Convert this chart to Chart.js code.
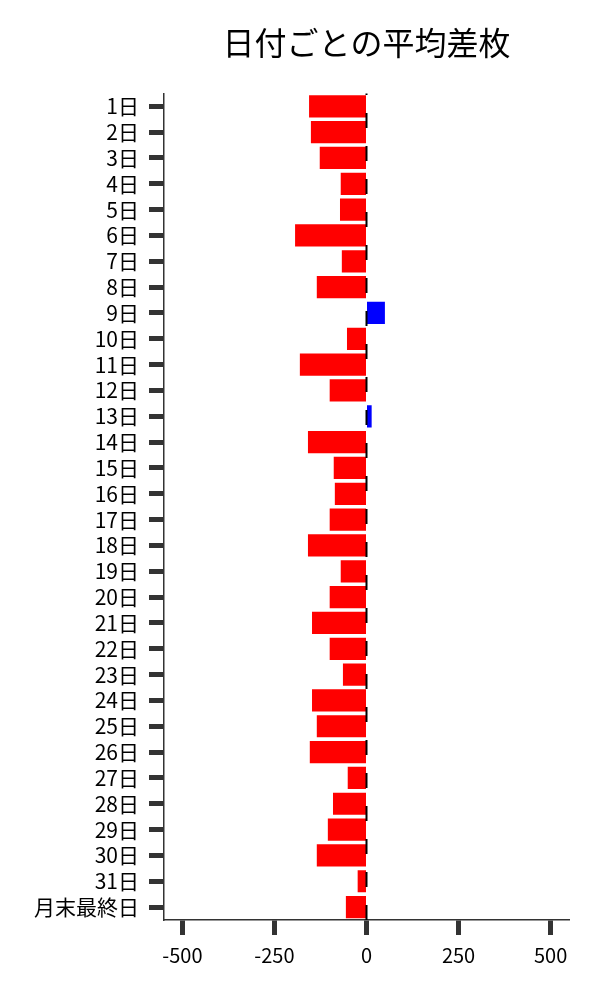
<!DOCTYPE html>
<html>
<head>
<meta charset="utf-8">
<script src="https://cdn.jsdelivr.net/npm/chart.js@4.4.1/dist/chart.umd.min.js"></script>
<style>
  html, body { margin: 0; padding: 0; background: #ffffff; }
  #wrap { width: 600px; height: 1000px; position: relative; }
</style>
</head>
<body>
<div id="wrap"><canvas id="c" width="600" height="1000"></canvas></div>
<script>
const categories = ["1日","2日","3日","4日","5日","6日","7日","8日","9日","10日",
  "11日","12日","13日","14日","15日","16日","17日","18日","19日","20日",
  "21日","22日","23日","24日","25日","26日","27日","28日","29日","30日","31日","月末最終日"];
const avgDiff = [-156, -151, -127, -70, -72, -194, -67, -135, 50, -53,
  -181, -100, 14, -159, -89, -86, -100, -159, -70, -100,
  -148, -100, -64, -148, -135, -154, -51, -91, -105, -135, -24, -56];
const xTicks = [-500, -250, 0, 250, 500];
const xMin = -550, xMax = 550;
const titleText = "日付ごとの平均差枚";

const barColors = avgDiff.map(v => v >= 0 ? "#0000ff" : "#ff0000");

const zeroLine = {
  id: "zeroLine",
  afterDatasetsDraw(chart) {
    const { ctx, chartArea, scales } = chart;
    const x = scales.x.getPixelForValue(0);
    ctx.save();
    ctx.strokeStyle = "#000000";
    ctx.lineWidth = 2;
    ctx.setLineDash([15, 18]);
    ctx.beginPath();
    ctx.moveTo(x, chartArea.bottom);
    ctx.lineTo(x, chartArea.top);
    ctx.stroke();
    ctx.restore();
  }
};

const FONT = "'Noto Sans CJK JP', 'Noto Sans', sans-serif";

new Chart(document.getElementById("c"), {
  type: "bar",
  data: {
    labels: categories,
    datasets: [{
      data: avgDiff,
      backgroundColor: barColors,
      borderWidth: 0,
      barPercentage: 0.86,
      categoryPercentage: 1.0
    }]
  },
  options: {
    indexAxis: "y",
    responsive: false,
    animation: false,
    devicePixelRatio: 1,
    layout: { padding: { left: 0, right: 31, top: 0, bottom: 0 } },
    plugins: {
      legend: { display: false },
      tooltip: { enabled: false },
      title: {
        display: true,
        text: titleText,
        fullSize: false,
        color: "#000000",
        font: { family: FONT, size: 32, weight: "normal" },
        padding: { top: 24, bottom: 31 }
      }
    },
    scales: {
      x: {
        type: "linear",
        min: xMin,
        max: xMax,
        afterBuildTicks(scale) { scale.ticks = xTicks.map(v => ({ value: v })); },
        afterFit(scale) { scale.height = 80; },
        border: { display: true, color: "#333333", width: 1.5 },
        grid: { drawOnChartArea: false, drawTicks: true, tickLength: 15, tickWidth: 5, tickColor: "#333333" },
        ticks: { color: "#000000", padding: 8, font: { family: FONT, size: 20 }, maxRotation: 0 }
      },
      y: {
        type: "category",
        afterFit(scale) { scale.width = 164; },
        border: { display: true, color: "#333333", width: 1.5 },
        grid: { offset: false, drawOnChartArea: false, drawTicks: true, tickLength: 15, tickWidth: 5, tickColor: "#333333" },
        ticks: { color: "#000000", padding: 10, font: { family: FONT, size: 21 }, autoSkip: false }
      }
    }
  },
  plugins: [zeroLine]
});
</script>
</body>
</html>
